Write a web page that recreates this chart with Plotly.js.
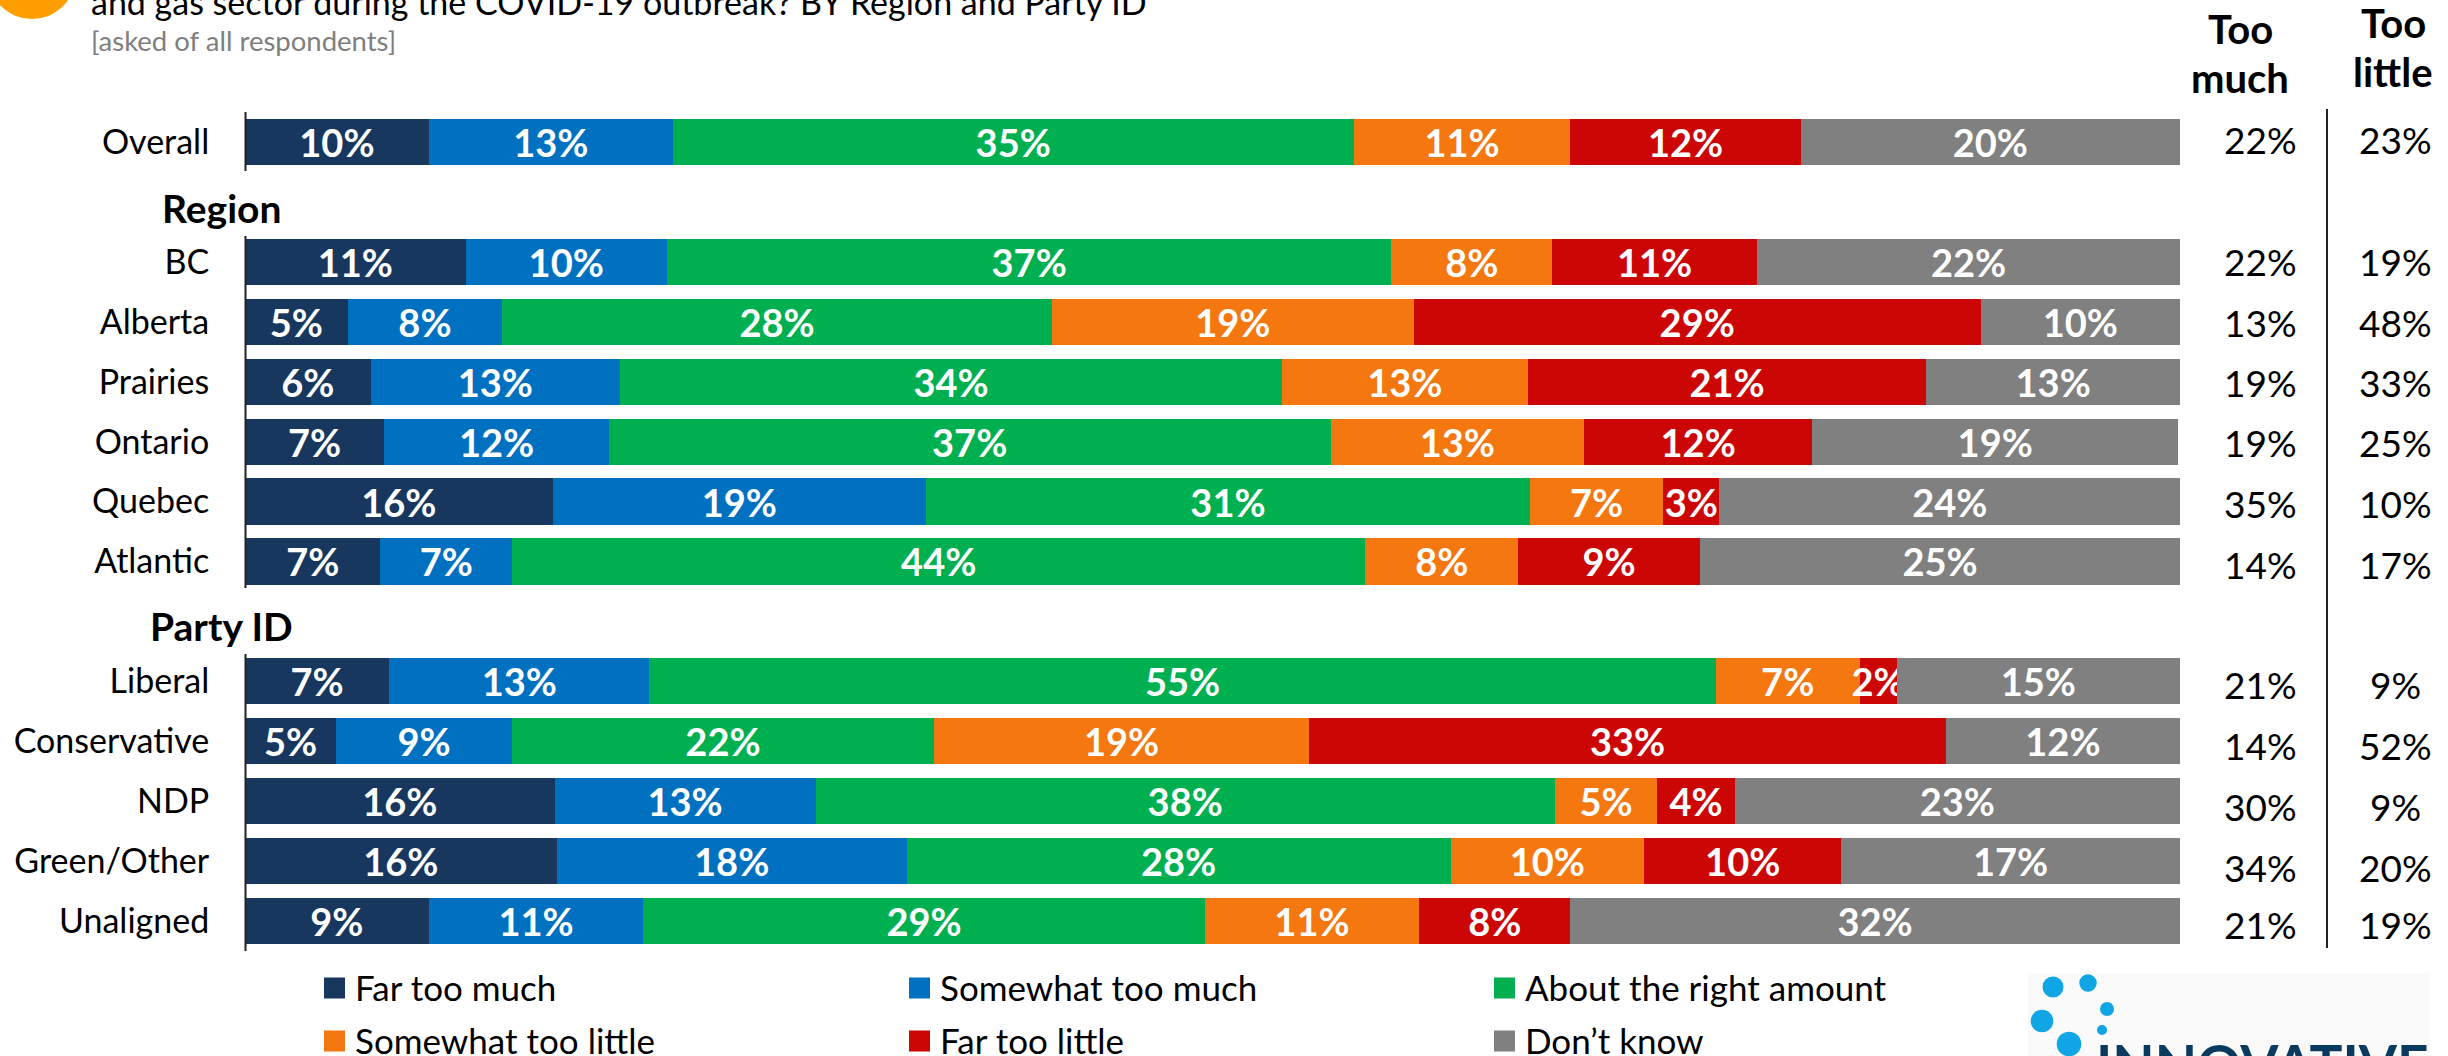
<!DOCTYPE html>
<html><head><meta charset="utf-8">
<script src="https://cdn.plot.ly/plotly-3.0.1.min.js"></script>
<style>html,body{margin:0;padding:0;background:#fff;overflow:hidden}</style></head>
<body><div id="chart" style="width:2448px;height:1056px"></div>
<script>
const categories=['Overall','Region','BC','Alberta','Prairies','Ontario','Quebec','Atlantic','Party ID','Liberal','Conservative','NDP','Green/Other','Unaligned'];
const seriesNames=['Far too much','Somewhat too much','About the right amount','Somewhat too little','Far too little','Don’t know'];
const seriesColors=['#17375E','#0070C0','#00B050','#F47710','#CC0605','#808080'];
const farTooMuch=[9.5,null,11.4,5.3,6.49,7.2,15.9,7.0,null,7.45,4.7,16.0,16.1,9.49];
const somewhatTooMuch=[12.6,null,10.4,8.0,12.9,11.6,19.3,6.8,null,13.45,9.1,13.49,18.1,11.1];
const aboutRight=[35.2,null,37.45,28.4,34.2,37.3,31.2,44.1,null,55.1,21.8,38.2,28.1,29.0];
const somewhatLittle=[11.2,null,8.3,18.7,12.7,13.1,6.9,7.9,null,7.45,19.4,5.3,10.0,11.1];
const farLittle=[11.9,null,10.6,29.3,20.6,11.8,2.9,9.4,null,1.9,32.9,4.0,10.2,7.8];
const dontKnow=[19.6,null,21.85,10.3,13.11,18.9,23.8,24.8,null,14.65,12.1,23.01,17.49,31.51];
const seriesValues=[farTooMuch,somewhatTooMuch,aboutRight,somewhatLittle,farLittle,dontKnow];
const tooMuch=['22%','','22%','13%','19%','19%','35%','14%','','21%','14%','30%','34%','21%'];
const tooLittle=['23%','','19%','48%','33%','25%','10%','17%','','9%','52%','9%','20%','19%'];
const sectionLabels=['Region','Party ID'];
const FONT='Lato, Liberation Sans, sans-serif';
const W=2448,H=1056,L=245,R=2180,T=112,B=951;
const px=x=>(x-L)/(R-L), py=y=>(B-y)/(B-T);
const traces=seriesValues.map((v,i)=>({type:'bar',orientation:'h',name:seriesNames[i],y:categories,x:v,
  marker:{color:seriesColors[i],line:{width:0}},width:0.77,texttemplate:'%{x:.0f}%',textposition:'inside',insidetextanchor:'middle',
  constraintext:'none',textangle:0,textfont:{family:FONT,size:38,color:'#fff',weight:700},hoverinfo:'skip',showlegend:false}));
const annotations=[];
const txt=(text,x,y,opt={})=>annotations.push(Object.assign({xref:'paper',yref:'paper',x:px(x),y:py(y),text,showarrow:false,xanchor:'left',yanchor:'middle',font:{family:FONT,size:33,color:'#000'}},opt));
const columnRowY=[140,null,261,322,382,442,503,564,null,684,745,806,867,924];
categories.forEach((c,i)=>{
  if(tooMuch[i]){
    txt(tooMuch[i],2260,columnRowY[i],{xanchor:'center',font:{family:FONT,size:37,color:'#000'}});
    txt(tooLittle[i],2395,columnRowY[i],{xanchor:'center',font:{family:FONT,size:37,color:'#000'}});
  }
  if(sectionLabels.includes(c)) annotations.push({xref:'paper',yref:'y',x:px(221.5),y:c,yshift:c==='Region'?-6:-5,text:'<b>'+c+'</b>',showarrow:false,xanchor:'center',yanchor:'middle',font:{family:FONT,size:39,color:'#000'}});
});
txt('and gas sector during the COVID-19 outbreak? BY Region and Party ID',89,1,{font:{family:FONT,size:34,color:'#000'}});
txt('[asked of all respondents]',89,41,{font:{family:FONT,size:27.5,color:'#7f7f7f'}});
txt('<b>Too</b>',2240,29,{xanchor:'center',font:{family:FONT,size:40,color:'#000'}});
txt('<b>much</b>',2240,78,{xanchor:'center',font:{family:FONT,size:40,color:'#000'}});
txt('<b>Too</b>',2393,23,{xanchor:'center',font:{family:FONT,size:40,color:'#000'}});
txt('<b>little</b>',2393,72,{xanchor:'center',font:{family:FONT,size:40,color:'#000'}});
const legX=[353,938,1523];
const legY=[988,1041];
const shapes=[];
const rect=(x0,y0,x1,y1,c)=>shapes.push({type:'rect',xref:'paper',yref:'paper',x0:px(x0),x1:px(x1),y0:py(y0),y1:py(y1),fillcolor:c,line:{width:0},layer:'below'});
const line=(x,y0,y1,w,c)=>shapes.push({type:'line',xref:'paper',yref:'paper',x0:px(x),x1:px(x),y0:py(y0),y1:py(y1),line:{color:c,width:w}});
const dot=(cx,cy,r,c)=>shapes.push({type:'circle',xref:'paper',yref:'paper',x0:px(cx-r),x1:px(cx+r),y0:py(cy+r),y1:py(cy-r),fillcolor:c,line:{width:0}});
seriesNames.forEach((n,i)=>{
  const lx=legX[i%3],ly=legY[Math.floor(i/3)];
  rect(lx-29,ly-10.5,lx-8,ly+10.5,seriesColors[i]);
  txt(n,lx,ly-1,{font:{family:FONT,size:35,color:'#000'}});
});
line(245.5,112,171,2,'#222');line(245.5,236,588,2,'#222');line(245.5,654,951,2,'#222');
line(2327,109,948,2,'#222');
dot(32,-25,44,'#FF9E00');
rect(2028,973,2430,1056,'#FAFAFA');
[[2053,987,10.5],[2088,983,8.7],[2107,1009,7],[2042,1021,11.3],[2102,1030,5],[2069,1044,12.3]].forEach(d=>dot(d[0],d[1],d[2],'#10A5E5'));
txt('<b>INNOVATIVE</b>',2094,1064,{font:{family:FONT,size:55,color:'#0B3A5F'}});
const tickCats=categories.filter(c=>!sectionLabels.includes(c));
Plotly.newPlot('chart',traces,{
  width:W,height:H,barmode:'stack',paper_bgcolor:'#fff',plot_bgcolor:'#fff',showlegend:false,
  margin:{l:L,r:W-R,t:T,b:H-B,pad:0},
  xaxis:{range:[0,100],visible:false,fixedrange:true},
  yaxis:{type:'category',categoryorder:'array',categoryarray:categories,autorange:false,range:[13.5,-0.5],showline:false,showgrid:false,zeroline:false,
    ticks:'outside',ticklen:28,tickcolor:'rgba(0,0,0,0)',tickmode:'array',tickvals:tickCats,ticktext:tickCats,
    tickfont:{family:FONT,size:34,color:'#000'}},
  annotations,shapes
},{staticPlot:true,displayModeBar:false});
</script></body></html>
